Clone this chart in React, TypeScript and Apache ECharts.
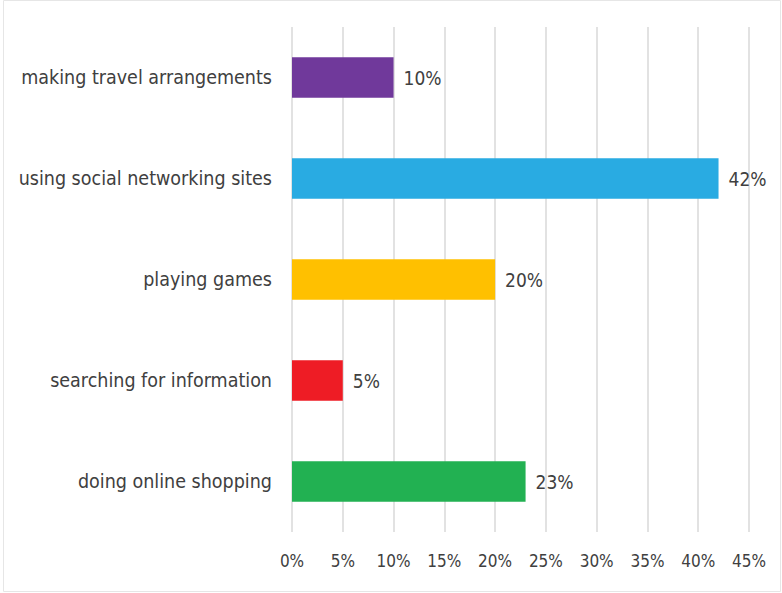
import React, { useEffect, useRef } from "react";
import * as echarts from "echarts";

const categories = [
  "making travel arrangements",
  "using social networking sites",
  "playing games",
  "searching for information",
  "doing online shopping",
];
const values = [10, 42, 20, 5, 23];
const colors = ["#70399b", "#29abe2", "#ffc000", "#ee1c25", "#22b152"];
const xTicks = [0, 5, 10, 15, 20, 25, 30, 35, 40, 45];

const FONT = "'DejaVu Sans Condensed', sans-serif";

export default function App() {
  const ref = useRef<HTMLDivElement>(null);
  useEffect(() => {
    if (!ref.current) return;
    const chart = echarts.init(ref.current, null, { renderer: "svg" });
    chart.setOption({
      animation: false,
      backgroundColor: "#ffffff",
      graphic: [
        {
          type: "rect",
          shape: { x: 3.5, y: 0.5, width: 777, height: 591 },
          style: { fill: "none", stroke: "#e6e6e6", lineWidth: 1 },
          silent: true,
        },
      ],
      grid: { left: 292, right: 33, top: 27, bottom: 61, containLabel: false },
      xAxis: {
        type: "value",
        min: xTicks[0],
        max: xTicks[xTicks.length - 1],
        interval: 5,
        axisLine: { show: false },
        axisTick: { show: false },
        axisLabel: {
          formatter: (v: number) => `${v}%`,
          fontFamily: FONT,
          fontSize: 17,
          color: "#404040",
          margin: 20,
        },
        splitLine: { show: true, lineStyle: { color: "#d9d9d9", width: 1.5 } },
      },
      yAxis: {
        type: "category",
        data: categories,
        inverse: true,
        axisLine: { show: false },
        axisTick: { show: false },
        axisLabel: {
          fontFamily: FONT,
          fontSize: 19.5,
          color: "#404040",
          margin: 20,
        },
      },
      series: [
        {
          type: "bar",
          barWidth: "40%",
          data: values.map((v, i) => ({ value: v, itemStyle: { color: colors[i] } })),
          label: {
            show: true,
            position: "right",
            distance: 10,
            formatter: (p: any) => `${p.value}%`,
            fontFamily: FONT,
            fontSize: 19,
            color: "#404040",
          },
        },
      ],
    });
    return () => chart.dispose();
  }, []);
  return (
    <div
      ref={ref}
      style={{ position: "fixed", left: 0, top: 0, width: 782, height: 593 }}
    />
  );
}
